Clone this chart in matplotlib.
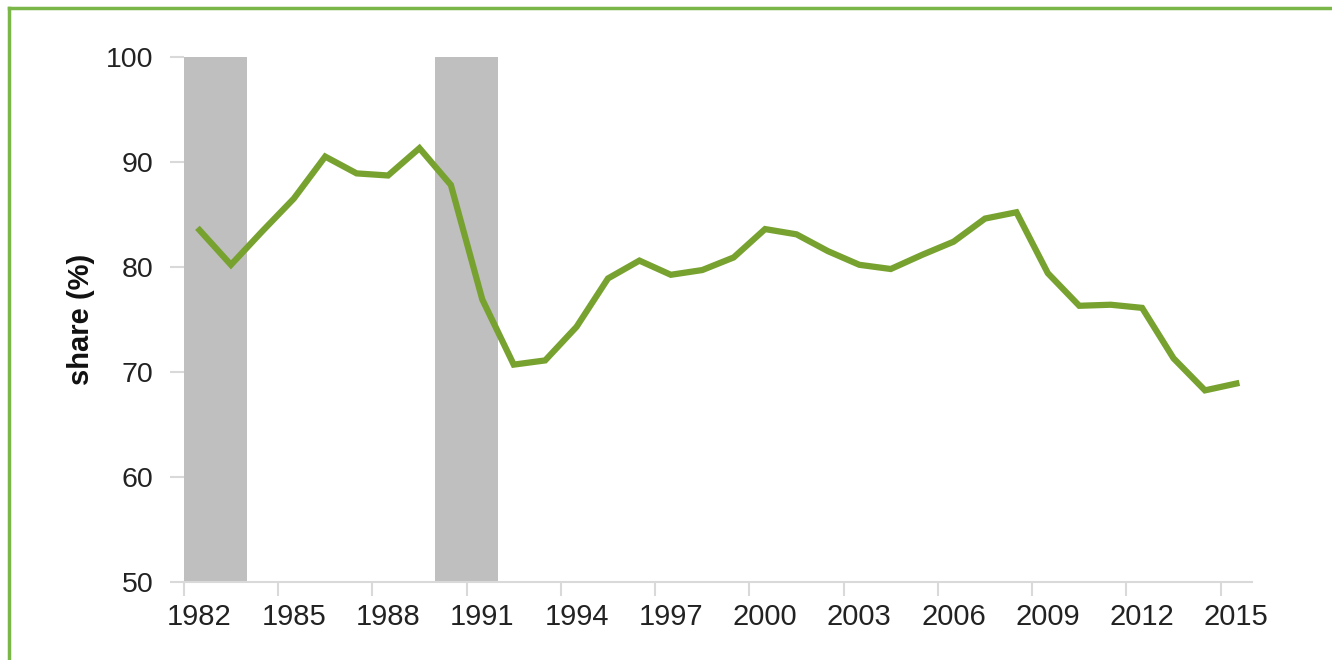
import matplotlib
matplotlib.use('Agg')
import matplotlib.pyplot as plt
from matplotlib.lines import Line2D
import numpy as np

years = list(range(1982, 2016))
share = [83.5, 80.2, 83.4, 86.5, 90.5, 88.9, 88.7, 91.3, 87.8, 76.9,
         70.7, 71.1, 74.3, 78.9, 80.6, 79.25, 79.7, 80.9, 83.6, 83.1,
         81.5, 80.2, 79.8, 81.15, 82.4, 84.6, 85.2, 79.4, 76.3, 76.4,
         76.1, 71.3, 68.25, 68.9]
recessions = [(1982, 1983), (1990, 1991)]
tick_years = list(range(1982, 2016, 3))

plt.rcParams['font.family'] = ['Liberation Sans', 'DejaVu Sans']

fig = plt.figure(figsize=(13.32, 6.6), dpi=100)
ax = fig.add_axes([0.138, 0.118, 0.802, 0.796])

# recession bars cover whole categories
for a, b in recessions:
    ax.axvspan(a - 0.5, b + 0.5, color='#bfbfbf', lw=0, zorder=1)

ax.plot(years, share, color='#77a22f', lw=4.5, solid_joinstyle='miter', zorder=3)

ax.set_xlim(1981.5, 2015.5)
ax.set_ylim(50, 100)
ax.set_yticks([50, 60, 70, 80, 90, 100])

ax.set_xticks(tick_years)
ax.set_xticklabels([str(y) for y in tick_years])
ax.set_xticks([y - 0.5 for y in tick_years], minor=True)
ax.tick_params(axis='x', which='major', length=0, pad=15, labelsize=21, colors='#222222')
ax.tick_params(axis='x', which='minor', length=10, width=1.5, color='#d9d9d9')
ax.tick_params(axis='y', length=10, width=1.5, color='#d9d9d9', pad=12, labelsize=20.5, labelcolor='#222222')

for s in ['top', 'right', 'left']:
    ax.spines[s].set_visible(False)
ax.spines['bottom'].set_color('#d9d9d9')
ax.spines['bottom'].set_linewidth(1.5)

ax.set_ylabel('share (%)', fontsize=21, fontweight='bold', color='#111111', labelpad=8)

# green frame (top and left edges visible)
fig.add_artist(Line2D([0.007, 1.0], [0.988, 0.988], color='#7ab648', lw=2.5, transform=fig.transFigure))
fig.add_artist(Line2D([0.007, 0.007], [0.0, 0.988], color='#7ab648', lw=2.5, transform=fig.transFigure))

fig.savefig('out.png', dpi=100)
